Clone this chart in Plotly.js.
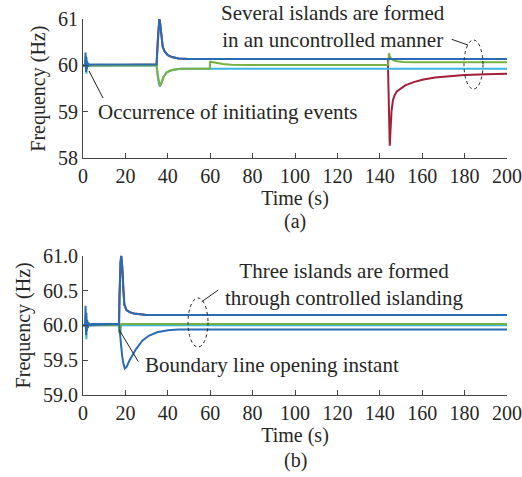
<!DOCTYPE html>
<html><head><meta charset="utf-8">
<script src="https://cdn.plot.ly/plotly-3.0.1.min.js"></script>
<style>html,body{margin:0;padding:0;background:#fff}#chart{width:522px;height:477px}</style>
</head><body><div id="chart"></div>
<script>
// ---------- (a) uncontrolled islanding ----------
const aDarkT = [0, 1.0, 1.2, 1.4, 1.6, 1.8, 2.0, 2.3, 2.6, 3.0, 4.0, 34.7, 35.2, 35.7, 36.0, 36.4, 37.0, 37.6, 38.5, 40, 42, 45, 50, 200];
const aDarkF = [60, 60, 60.28, 59.86, 60.18, 59.92, 60.09, 59.97, 60.04, 60.01, 60.02, 60.02, 60.5, 60.95, 61.0, 60.9, 60.6, 60.4, 60.3, 60.22, 60.18, 60.15, 60.14, 60.14];

const aGreenT = [0, 34.7, 35.2, 35.8, 36.3, 37.0, 38.0, 39.5, 42, 46, 59.8, 60.0, 61, 63, 66, 70, 80, 144.0, 144.3, 144.7, 145.5, 146.5, 148, 151, 156, 200];
const aGreenF = [60, 60, 59.8, 59.6, 59.55, 59.62, 59.75, 59.85, 59.9, 59.93, 59.93, 60.08, 60.07, 60.05, 60.03, 60.015, 60.01, 60.01, 60.26, 60.2, 60.14, 60.11, 60.09, 60.075, 60.07, 60.07];

const aLightT = [0, 1.0, 1.3, 1.6, 2.0, 2.5, 34.7, 35.2, 35.8, 36.3, 37.0, 38.0, 39.5, 42, 46, 200];
const aLightF = [60, 60, 60.2, 59.82, 60.05, 60, 60, 59.8, 59.6, 59.55, 59.62, 59.75, 59.85, 59.9, 59.93, 59.93];

const aRedT = [0, 1.4, 1.6, 1.8, 2.2, 34.7, 35.2, 35.7, 36.0, 36.4, 37.0, 37.6, 38.5, 40, 42, 45, 50, 143.8, 144.1, 144.4, 144.7, 145.0, 145.5, 146.2, 147, 148, 150, 152, 156, 160, 166, 172, 180, 190, 200];
const aRedF = [60, 60, 59.9, 60.05, 60, 60.02, 60.5, 60.95, 61.02, 60.9, 60.6, 60.4, 60.3, 60.22, 60.18, 60.15, 60.14, 60.14, 59.5, 58.6, 58.27, 58.55, 59.0, 59.25, 59.36, 59.44, 59.51, 59.57, 59.64, 59.69, 59.74, 59.77, 59.795, 59.81, 59.82];

// ---------- (b) controlled islanding ----------
const bUpT = [0, 1.0, 1.2, 1.4, 1.6, 1.8, 2.0, 2.3, 2.6, 3.0, 4.0, 17.0, 17.2, 17.6, 18.0, 18.5, 19.0, 19.5, 20.5, 22, 24, 27, 30, 35, 200];
const bUpF = [60, 60, 60.28, 59.86, 60.18, 59.92, 60.08, 59.96, 60.04, 60.01, 60.02, 60.02, 60.4, 60.9, 61.0, 60.85, 60.5, 60.3, 60.22, 60.19, 60.17, 60.16, 60.15, 60.15, 60.15];

const bDownT = [0, 17.0, 17.3, 17.8, 18.4, 19.0, 19.7, 20.5, 22, 25, 28, 31, 35, 40, 45, 200];
const bDownF = [60, 60.02, 59.93, 59.75, 59.58, 59.46, 59.38, 59.4, 59.5, 59.66, 59.78, 59.85, 59.9, 59.93, 59.94, 59.94];

const bGreenT = [0, 17.0, 17.1, 17.6, 18.0, 200];
const bGreenF = [60, 60, 59.9, 59.88, 60.02, 60.02];

const bLightT = [0, 1.0, 1.3, 1.6, 2.0, 2.5, 200];
const bLightF = [60, 60, 60.15, 59.8, 60.05, 60, 60];

const bRedT = [0, 1.4, 1.6, 1.8, 2.2, 17.0, 17.2, 17.6, 18.0, 18.5, 19.0, 19.5, 20.5, 22, 24, 27, 30, 35, 200];
const bRedF = [60, 60, 59.92, 60.04, 60, 60.02, 60.45, 60.92, 61.02, 60.85, 60.5, 60.3, 60.22, 60.19, 60.17, 60.16, 60.15, 60.15, 60.15];

const xTicks = [0, 20, 40, 60, 80, 100, 120, 140, 160, 180, 200];
const aYTicks = [58, 59, 60, 61];
const bYTicks = [59.0, 59.5, 60.0, 60.5, 61.0];

const DARK = '#2a6cb3', LIGHT = '#3fb3e3', GREEN = '#77b043', RED = '#a21f3a';
const FONT = '"Liberation Serif", "Times New Roman", serif';
const TXT = '#262626', AX = '#444';

function tr(x, y, color, xa, ya) {
  return {x: x, y: y, type: 'scatter', mode: 'lines', xaxis: xa, yaxis: ya,
          line: {color: color, width: 2}, hoverinfo: 'skip', showlegend: false};
}

const data = [
  tr(aRedT, aRedF, RED, 'x', 'y'),
  tr(aLightT, aLightF, LIGHT, 'x', 'y'),
  tr(aGreenT, aGreenF, GREEN, 'x', 'y'),
  tr(aDarkT, aDarkF, DARK, 'x', 'y'),
  tr(bRedT, bRedF, RED, 'x2', 'y2'),
  tr(bLightT, bLightF, LIGHT, 'x2', 'y2'),
  tr(bGreenT, bGreenF, GREEN, 'x2', 'y2'),
  tr(bDownT, bDownF, DARK, 'x2', 'y2'),
  tr(bUpT, bUpF, DARK, 'x2', 'y2')
];

// pixel -> paper helpers (plot area: x 83..507, y 19..395)
const L = 83, W = 424, B = 395, H = 376;
const px = v => (v - L) / W;
const py = v => (B - v) / H;

function axisX(anchor) {
  return {anchor: anchor, domain: [0, 1], range: [0, 200], tickvals: xTicks,
    ticks: 'inside', ticklen: 5, tickwidth: 1, tickcolor: AX,
    showline: true, linecolor: AX, linewidth: 1, showgrid: false, zeroline: false,
    tickfont: {family: FONT, size: 20, color: TXT},
    title: {text: 'Time (s)', font: {family: FONT, size: 20, color: TXT}, standoff: 2}};
}
function axisY(anchor, dom, rng, ticks, fmt) {
  return {anchor: anchor, domain: dom, range: rng, tickvals: ticks, tickformat: fmt,
    ticks: 'inside', ticklen: 5, tickwidth: 1, tickcolor: AX,
    showline: true, linecolor: AX, linewidth: 1, showgrid: false, zeroline: false,
    tickfont: {family: FONT, size: 20, color: TXT},
    title: {text: 'Frequency (Hz)', font: {family: FONT, size: 20, color: TXT}, standoff: 6}};
}

function note(text, x, y, xanchor) {
  return {xref: 'paper', yref: 'paper', x: px(x), y: py(y), text: text, showarrow: false,
    xanchor: xanchor || 'center', yanchor: 'middle', align: 'center',
    font: {family: FONT, size: 21, color: TXT}};
}
function seg(x0, y0, x1, y1) {
  return {type: 'line', xref: 'paper', yref: 'paper', x0: px(x0), y0: py(y0), x1: px(x1), y1: py(y1),
    line: {color: '#222', width: 1}};
}
function oval(x0, y0, x1, y1) {
  return {type: 'circle', xref: 'paper', yref: 'paper', x0: px(x0), y0: py(y0), x1: px(x1), y1: py(y1),
    line: {color: '#222', width: 1, dash: 'dot'}};
}

const layout = {
  width: 522, height: 477,
  margin: {l: 83, r: 15, t: 19, b: 82},
  paper_bgcolor: '#fff', plot_bgcolor: '#fff',
  font: {family: FONT, size: 20, color: TXT},
  xaxis: axisX('y'),
  yaxis: axisY('x', [(B - 158.3) / H, 1], [58, 61], aYTicks, 'd'),
  xaxis2: axisX('y2'),
  yaxis2: axisY('x2', [0, (B - 255.7) / H], [59, 61], bYTicks, '.1f'),
  annotations: [
    note('Several islands are formed<br>in an uncontrolled manner', 333, 26.5),
    note('Occurrence of initiating events', 95.7, 111.7, 'left'),
    {...note('(a)', 295.3, 221), font: {family: FONT, size: 20, color: TXT}},
    note('Three islands are formed<br>through controlled islanding', 344, 284.7),
    note('Boundary line opening instant', 142.7, 365, 'left'),
    {...note('(b)', 295.3, 460), font: {family: FONT, size: 20, color: TXT}}
  ],
  shapes: [
    seg(89, 71, 103, 98),
    oval(464, 89, 483, 40),
    seg(451.7, 39.3, 468, 45),
    oval(188, 347, 208, 298),
    seg(201.7, 301.7, 218.3, 290),
    seg(119.3, 330, 138.3, 361.7)
  ]
};

Plotly.newPlot('chart', data, layout, {displayModeBar: false, staticPlot: true});
</script>
</body></html>
